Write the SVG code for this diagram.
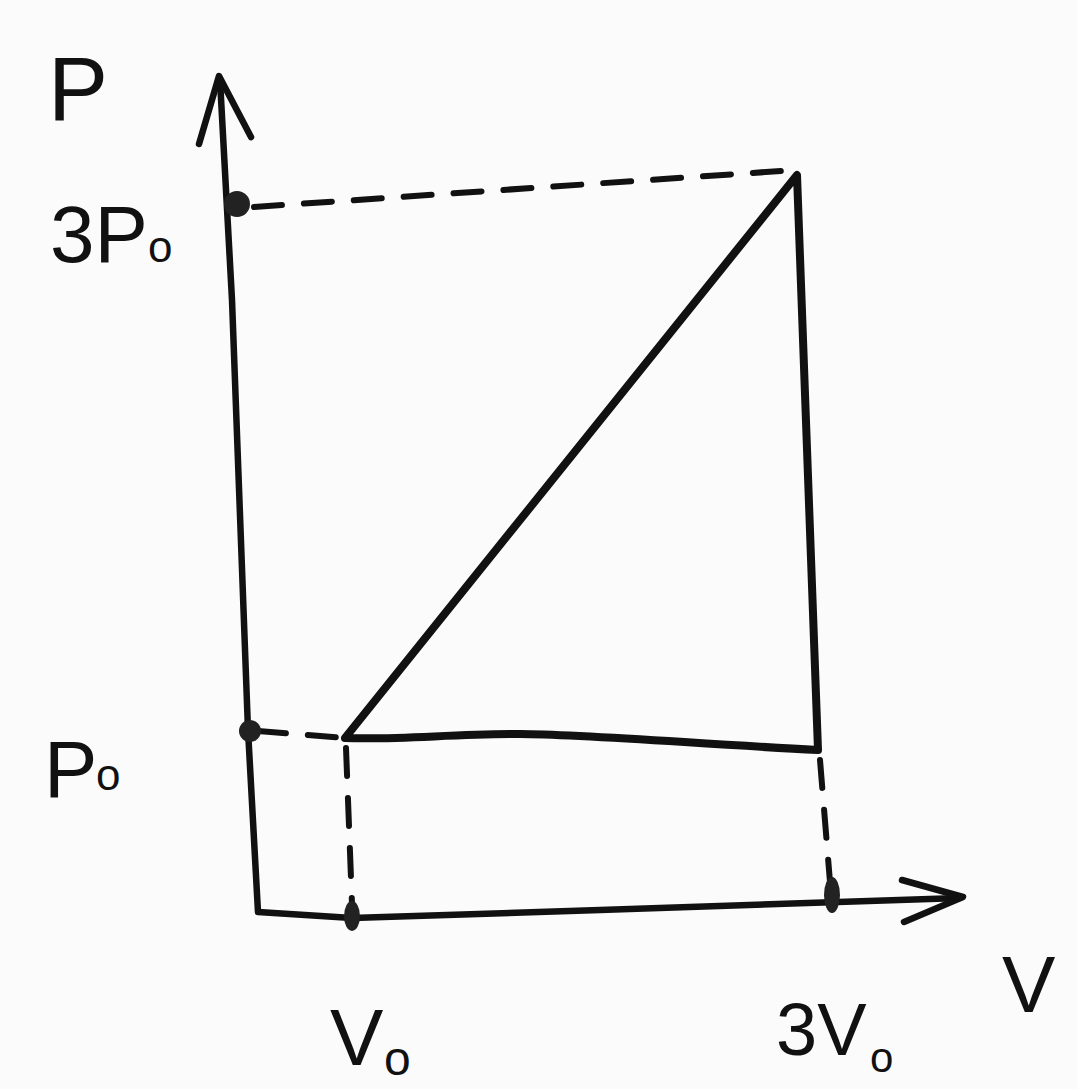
<svg xmlns="http://www.w3.org/2000/svg" width="1077" height="1089" viewBox="0 0 1077 1089">
<style>
.ln{fill:none;stroke:#111;stroke-width:8;stroke-linecap:round;stroke-linejoin:round}
.ax{fill:none;stroke:#111;stroke-width:6.5;stroke-linecap:round;stroke-linejoin:round}
.ds{fill:none;stroke:#111;stroke-width:6;stroke-dasharray:28 22;stroke-linecap:round}
.lb{font-family:"Liberation Sans",Arial,sans-serif;fill:#111}
.dot{fill:#222}
</style>
<rect width="1077" height="1089" fill="#fbfbfb"/>
<g id="axes">
<path class="ax" d="M220 80 L232 300 L248 730 L258 912 L352 918 L600 910 L960 898"/>
<path class="ax" d="M199 144 L219 76 L251 137"/>
<path class="ax" d="M902 880 L963 897 L904 922"/>
</g>
<g id="connectors">
<path class="ds" d="M254 207 L795 170"/>
<path class="ds" d="M258 731 L344 738"/>
<path class="ds" d="M346 748 L352 904"/>
<path class="ds" d="M820 760 L830 882"/>
</g>
<g id="cycle">
<path class="ln" d="M345 738 L797 175 L818 750 C700 744 580 734 520 734 C450 734 400 740 345 738 Z"/>
</g>
<g id="markers">
<circle class="dot" cx="237" cy="204" r="13"/>
<circle class="dot" cx="250" cy="731" r="11"/>
<ellipse class="dot" cx="352" cy="916" rx="8" ry="15"/>
<ellipse class="dot" cx="832" cy="895" rx="8" ry="18"/>
</g>
<g id="labels">
<text class="lb" x="48" y="120" font-size="90">P</text>
<text class="lb" x="50" y="262" font-size="80">3P</text>
<text class="lb" x="148" y="262" font-size="44">o</text>
<text class="lb" x="44" y="797" font-size="80">P</text>
<text class="lb" x="96" y="790" font-size="44">o</text>
<text class="lb" x="330" y="1065" font-size="80">V</text>
<text class="lb" x="384" y="1075" font-size="48">o</text>
<text class="lb" x="776" y="1055" font-size="74">3V</text>
<text class="lb" x="870" y="1072" font-size="42">o</text>
<text class="lb" x="1002" y="1012" font-size="80">V</text>
</g>
</svg>
